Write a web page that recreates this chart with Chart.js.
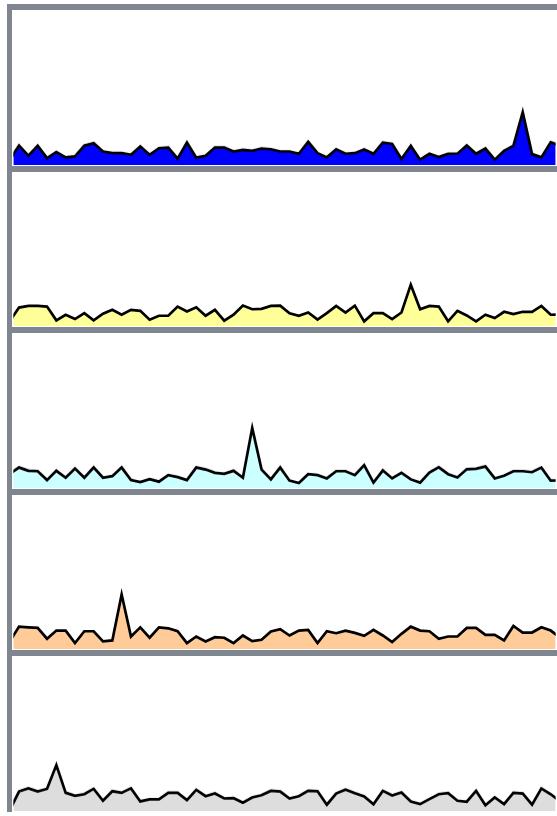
<!DOCTYPE html>
<html>
<head>
<meta charset="utf-8">
<script src="https://cdn.jsdelivr.net/npm/chart.js@4.4.1/dist/chart.umd.min.js"></script>
<style>
  body { margin: 0; background: #fff; overflow: hidden; }
  .panel {
    position: absolute;
    left: 7px;
    width: 545px;
    height: 155.6px;
    border-top: 6px solid #7f8690;
    border-left: 5px solid #7f8690;
    background: #fff;
  }
</style>
</head>
<body>
<div id="panels"></div>
<script>
// values, one per tick, 60 ticks per strip
const blueVals = [5.7, 20, 9.7, 19.7, 7.3, 13.3, 8, 9, 20, 22.3, 14, 12.3, 12.3, 10.7, 19, 10.7, 17.3, 18, 6.7, 23,
    7.7, 9.7, 18, 18, 14, 15.7, 14.7, 17, 16.3, 14, 14, 11.7, 23.7, 12.3, 8, 16.3, 11.7, 12.3, 16, 11.7,
    23, 21.7, 6.3, 19.7, 5.7, 11.7, 8.3, 11.7, 11.7, 20, 11.7, 17, 5.7, 14.7, 19.7, 53.7, 11.3, 8, 23.3, 20];
const yellowVals = [5.2, 19, 20.7, 20.7, 20, 6, 11.7, 7.3, 13.3, 6, 12.7, 16.7, 11.7, 16.7, 15.7, 6.7, 10.7, 10.7, 20, 15,
    19.3, 10.7, 16.7, 5.7, 11.7, 21, 17.3, 17.7, 20.7, 21, 13.3, 10.7, 14, 6.7, 13.3, 20.7, 14, 21, 5, 13.3,
    13.3, 7.3, 14, 42.3, 17.3, 20.7, 20, 5, 15.7, 11, 5, 11.7, 8.3, 14.7, 12.3, 14.7, 14.7, 20.7, 11.7, 12];
const cyanVals = [14.7, 21, 17.7, 17.3, 8.3, 17.7, 10.7, 20, 10.7, 21, 10.7, 12.3, 21, 8.3, 6.3, 9.3, 6.7, 13.3, 11.3, 8.3,
    21, 19, 15.7, 14.7, 17.7, 10.7, 61, 19, 9, 21, 7.7, 5.3, 14.3, 13.3, 10, 17.3, 17.3, 13.3, 23.3, 5.7,
    18, 10, 15.7, 9, 5.7, 16, 21.3, 14.3, 11, 19.3, 19.7, 22, 10, 12.7, 17.3, 17.3, 16.3, 21, 7.7, 8];
const orangeVals = [7.9, 23, 22.3, 21.7, 10.7, 19, 19, 6.3, 18.3, 18.3, 8, 9, 55.7, 13, 22.3, 11.7, 22.3, 21.3, 18.3, 6.3,
    13, 8, 12.3, 11.7, 6.3, 14, 8.3, 9.7, 18, 20.5, 14, 19, 19.7, 6.3, 18.3, 16.3, 19, 16.7, 13.7, 19.7,
    14, 7.3, 15.7, 23, 19, 18.3, 10.7, 13, 13, 21.7, 21.7, 14.7, 14.7, 9, 23.7, 17, 17, 22.3, 19, 12];
const greyVals = [1.1, 20, 23.3, 20, 22.7, 46.7, 18.7, 15.7, 17.3, 22.7, 10.7, 20.3, 18.7, 23.3, 10, 12, 12, 18.7, 18.7, 11.3,
    21.7, 15.3, 18, 13, 13.3, 8.7, 14, 16.3, 20.7, 20, 13, 15.3, 20.7, 20.3, 6.7, 18, 22, 18.3, 15, 7,
    20.7, 16, 19, 10, 7.3, 12.3, 17.3, 18.3, 10.7, 9.7, 20.7, 6, 14, 7.3, 18.7, 18, 6.7, 23, 17.3, 10];

const series = [blueVals, yellowVals, cyanVals, orangeVals, greyVals];
const fills = ['#0000ff', '#ffff99', '#ccffff', '#ffcc99', '#dddddd'];

const xMin = 0.39, xMax = 58.53;   // the strip shows a window of the run
const yMax = 155.6;

const holder = document.getElementById('panels');

series.forEach((vals, k) => {
    const div = document.createElement('div');
    div.className = 'panel';
    div.style.top = (4 + k * 161.6) + 'px';
    const cv = document.createElement('canvas');
    div.appendChild(cv);
    holder.appendChild(div);

    new Chart(cv.getContext('2d'), {
        type: 'line',
        data: {
            datasets: [{
                data: vals.map((v, i) => ({ x: i, y: v })),
                borderColor: '#000',
                borderWidth: 2.7,
                backgroundColor: fills[k],
                fill: 'origin',
                pointRadius: 0,
                tension: 0
            }]
        },
        options: {
            responsive: true,
            maintainAspectRatio: false,
            animation: false,
            layout: { padding: 0 },
            plugins: { legend: { display: false }, tooltip: { enabled: false } },
            scales: {
                x: { type: 'linear', min: xMin, max: xMax, display: false },
                y: { min: 0, max: yMax, display: false }
            }
        }
    });
});
</script>
</body>
</html>
